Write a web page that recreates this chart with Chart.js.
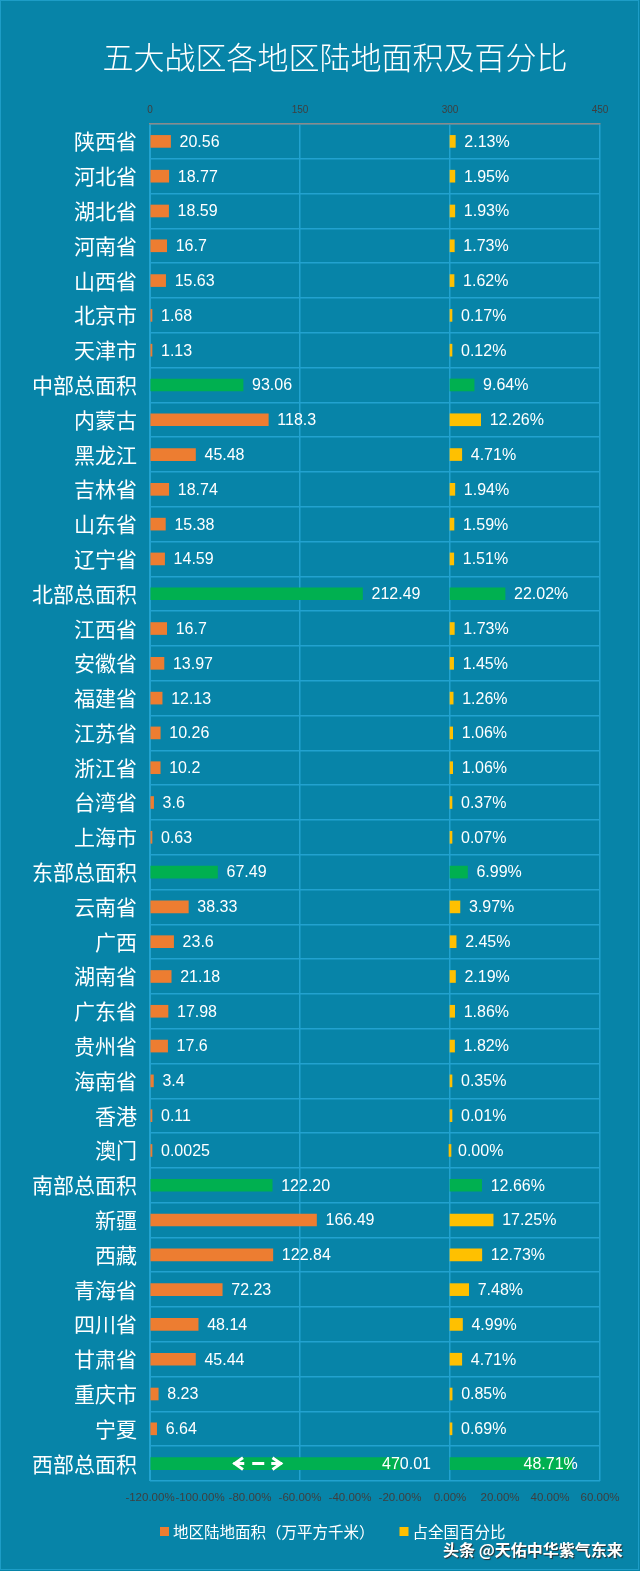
<!DOCTYPE html>
<html lang="zh">
<head>
<meta charset="UTF-8">
<title>五大战区各地区陆地面积及百分比</title>
<script src="https://cdn.jsdelivr.net/npm/chart.js"></script>
<style>
    html, body { margin: 0; padding: 0; background: #0784a8; }
    .wrap { position: relative; width: 640px; height: 1571px; }
    .frame {
        position: absolute; left: 0; top: 0; width: 637px; height: 1568px;
        border: 1.5px solid #1d9dc7; pointer-events: none;
    }
    #mark {
        position: absolute; left: 443px; top: 1537px;
        font: bold 16px "Noto Sans CJK SC", sans-serif; color: #fff;
        text-shadow: 1px 1px 1px #2b2b2b; white-space: nowrap;
    }
</style>
</head>
<body>
<div class="wrap">
    <canvas id="chart" width="640" height="1571"></canvas>
    <div class="frame"></div>
    <div id="mark">头条 @天佑中华紫气东来</div>
</div>
<script>
    const regions = ['陕西省', '河北省', '湖北省', '河南省', '山西省', '北京市', '天津市', '中部总面积',
        '内蒙古', '黑龙江', '吉林省', '山东省', '辽宁省', '北部总面积',
        '江西省', '安徽省', '福建省', '江苏省', '浙江省', '台湾省', '上海市', '东部总面积',
        '云南省', '广西', '湖南省', '广东省', '贵州省', '海南省', '香港', '澳门', '南部总面积',
        '新疆', '西藏', '青海省', '四川省', '甘肃省', '重庆市', '宁夏', '西部总面积'];
    // 地区陆地面积（万平方千米），as printed on the labels
    const areaText = ['20.56', '18.77', '18.59', '16.7', '15.63', '1.68', '1.13', '93.06',
        '118.3', '45.48', '18.74', '15.38', '14.59', '212.49',
        '16.7', '13.97', '12.13', '10.26', '10.2', '3.6', '0.63', '67.49',
        '38.33', '23.6', '21.18', '17.98', '17.6', '3.4', '0.11', '0.0025', '122.20',
        '166.49', '122.84', '72.23', '48.14', '45.44', '8.23', '6.64', '470.01'];
    // 占全国百分比
    const shareText = ['2.13%', '1.95%', '1.93%', '1.73%', '1.62%', '0.17%', '0.12%', '9.64%',
        '12.26%', '4.71%', '1.94%', '1.59%', '1.51%', '22.02%',
        '1.73%', '1.45%', '1.26%', '1.06%', '1.06%', '0.37%', '0.07%', '6.99%',
        '3.97%', '2.45%', '2.19%', '1.86%', '1.82%', '0.35%', '0.01%', '0.00%', '12.66%',
        '17.25%', '12.73%', '7.48%', '4.99%', '4.71%', '0.85%', '0.69%', '48.71%'];
    const areaTicks = [0, 150, 300, 450];
    const shareTicks = [-120, -100, -80, -60, -40, -20, 0, 20, 40, 60];
    // the 西部总面积 bar is drawn broken (with arrows), cut at this length
    const areaBreak = 250;

    const areaValues = areaText.map(Number);
    const shareValues = shareText.map(s => parseFloat(s));

    const ORANGE = '#ed7d31', YELLOW = '#ffc000', GREEN = '#00b050';
    const GRID = '#22a2cf';
    const isTotal = r => r.indexOf('总面积') >= 0;

    // title + legend, drawn at the spots they have in the original picture
    const titleLegend = {
        id: 'titleLegend',
        afterDraw(chart) {
            const ctx = chart.ctx;
            ctx.save();
            ctx.font = '300 31px "Noto Sans CJK SC", sans-serif';
            ctx.fillStyle = '#fff';
            ctx.textAlign = 'center';
            ctx.textBaseline = 'middle';
            ctx.fillText('五大战区各地区陆地面积及百分比', 335, 57);

            const items = [
                { text: '地区陆地面积（万平方千米）', color: ORANGE },
                { text: '占全国百分比', color: YELLOW }
            ];
            ctx.font = '15.5px "Noto Sans CJK SC", sans-serif';
            ctx.textAlign = 'left';
            let x = 160;
            const y = 1532;
            items.forEach(it => {
                ctx.fillStyle = it.color;
                ctx.fillRect(x, y - 5, 9, 9);
                ctx.fillStyle = '#fff';
                ctx.fillText(it.text, x + 13, y);
                x += 13 + ctx.measureText(it.text).width + 25;
            });
            ctx.restore();
        }
    };

    const barLabels = {
        id: 'barLabels',
        afterDatasetsDraw(chart) {
            const ctx = chart.ctx;
            ctx.save();
            ctx.font = '16px "Liberation Sans", sans-serif';
            ctx.fillStyle = '#fff';
            ctx.textBaseline = 'middle';
            ctx.textAlign = 'left';
            chart.getDatasetMeta(0).data.forEach((bar, i) => {
                let x = bar.x + 9;
                if (areaValues[i] > areaBreak) x = bar.x - 18;
                ctx.fillText(areaText[i], x, bar.y + 1);
            });
            chart.getDatasetMeta(1).data.forEach((bar, i) => {
                const w = ctx.measureText(shareText[i]).width;
                let x = bar.x + 9;
                if (x + w > chart.chartArea.right) x = bar.x + 6 - w;
                ctx.fillText(shareText[i], x, bar.y + 1);
            });

            // break mark  "<- - ->"  on the cut bar
            const cut = chart.getDatasetMeta(0).data[areaValues.findIndex(v => v > areaBreak)];
            if (cut) {
                const y = cut.y, x0 = cut.base;
                ctx.strokeStyle = '#fff';
                ctx.lineWidth = 3;
                ctx.lineCap = 'square';
                ctx.beginPath();
                ctx.moveTo(x0 + 91, y - 5); ctx.lineTo(x0 + 84, y); ctx.lineTo(x0 + 91, y + 5);
                ctx.moveTo(x0 + 84, y); ctx.lineTo(x0 + 92, y);
                ctx.moveTo(x0 + 103, y); ctx.lineTo(x0 + 112, y);
                ctx.moveTo(x0 + 123, y - 5); ctx.lineTo(x0 + 130, y); ctx.lineTo(x0 + 123, y + 5);
                ctx.moveTo(x0 + 122, y); ctx.lineTo(x0 + 130, y);
                ctx.stroke();
            }
            ctx.restore();
        }
    };

    new Chart(document.getElementById('chart'), {
        type: 'bar',
        data: {
            labels: regions,
            datasets: [{
                label: '地区陆地面积（万平方千米）',
                data: areaValues.map(v => Math.min(v, areaBreak)),
                xAxisID: 'x',
                backgroundColor: regions.map(r => isTotal(r) ? GREEN : ORANGE),
                barThickness: 12,
                minBarLength: 2,
                grouped: false
            }, {
                label: '占全国百分比',
                data: shareValues,
                xAxisID: 'x2',
                backgroundColor: regions.map(r => isTotal(r) ? GREEN : YELLOW),
                barThickness: 12,
                minBarLength: 2,
                grouped: false
            }]
        },
        options: {
            indexAxis: 'y',
            responsive: false,
            animation: false,
            layout: { padding: { left: 0, right: 40, top: 100, bottom: 68 } },
            scales: {
                y: {
                    afterFit: s => { s.width = 150; },
                    grid: { color: GRID, lineWidth: 1.5, drawTicks: false },
                    border: { color: GRID },
                    ticks: {
                        color: '#ffffff', padding: 13,
                        font: { size: 21, family: '"Noto Sans CJK SC", sans-serif' }
                    }
                },
                x: {
                    position: 'top',
                    min: 0, max: 450,
                    afterBuildTicks: s => { s.ticks = areaTicks.map(v => ({ value: v })); },
                    afterFit: s => { s.height = 24; },
                    grid: { color: GRID, lineWidth: 1.5, drawTicks: false },
                    border: { color: '#8a8a8a', width: 1.5 },
                    ticks: {
                        color: '#3f3f3f', padding: 8,
                        font: { size: 10, family: '"Liberation Sans", sans-serif' }
                    }
                },
                x2: {
                    position: 'bottom',
                    min: -120, max: 60,
                    afterBuildTicks: s => { s.ticks = shareTicks.map(v => ({ value: v })); },
                    afterFit: s => { s.height = 22; },
                    grid: { display: false, drawTicks: false },
                    border: { display: false },
                    ticks: {
                        color: '#3f3f3f', padding: 10,
                        maxRotation: 0, minRotation: 0, autoSkip: false,
                        callback: v => v.toFixed(2) + '%',
                        font: { size: 11.5, family: '"Liberation Sans", sans-serif' }
                    }
                }
            },
            plugins: {
                title: { display: false },
                legend: { display: false },
                tooltip: { enabled: false }
            }
        },
        plugins: [barLabels, titleLegend]
    });
</script>
</body>
</html>
